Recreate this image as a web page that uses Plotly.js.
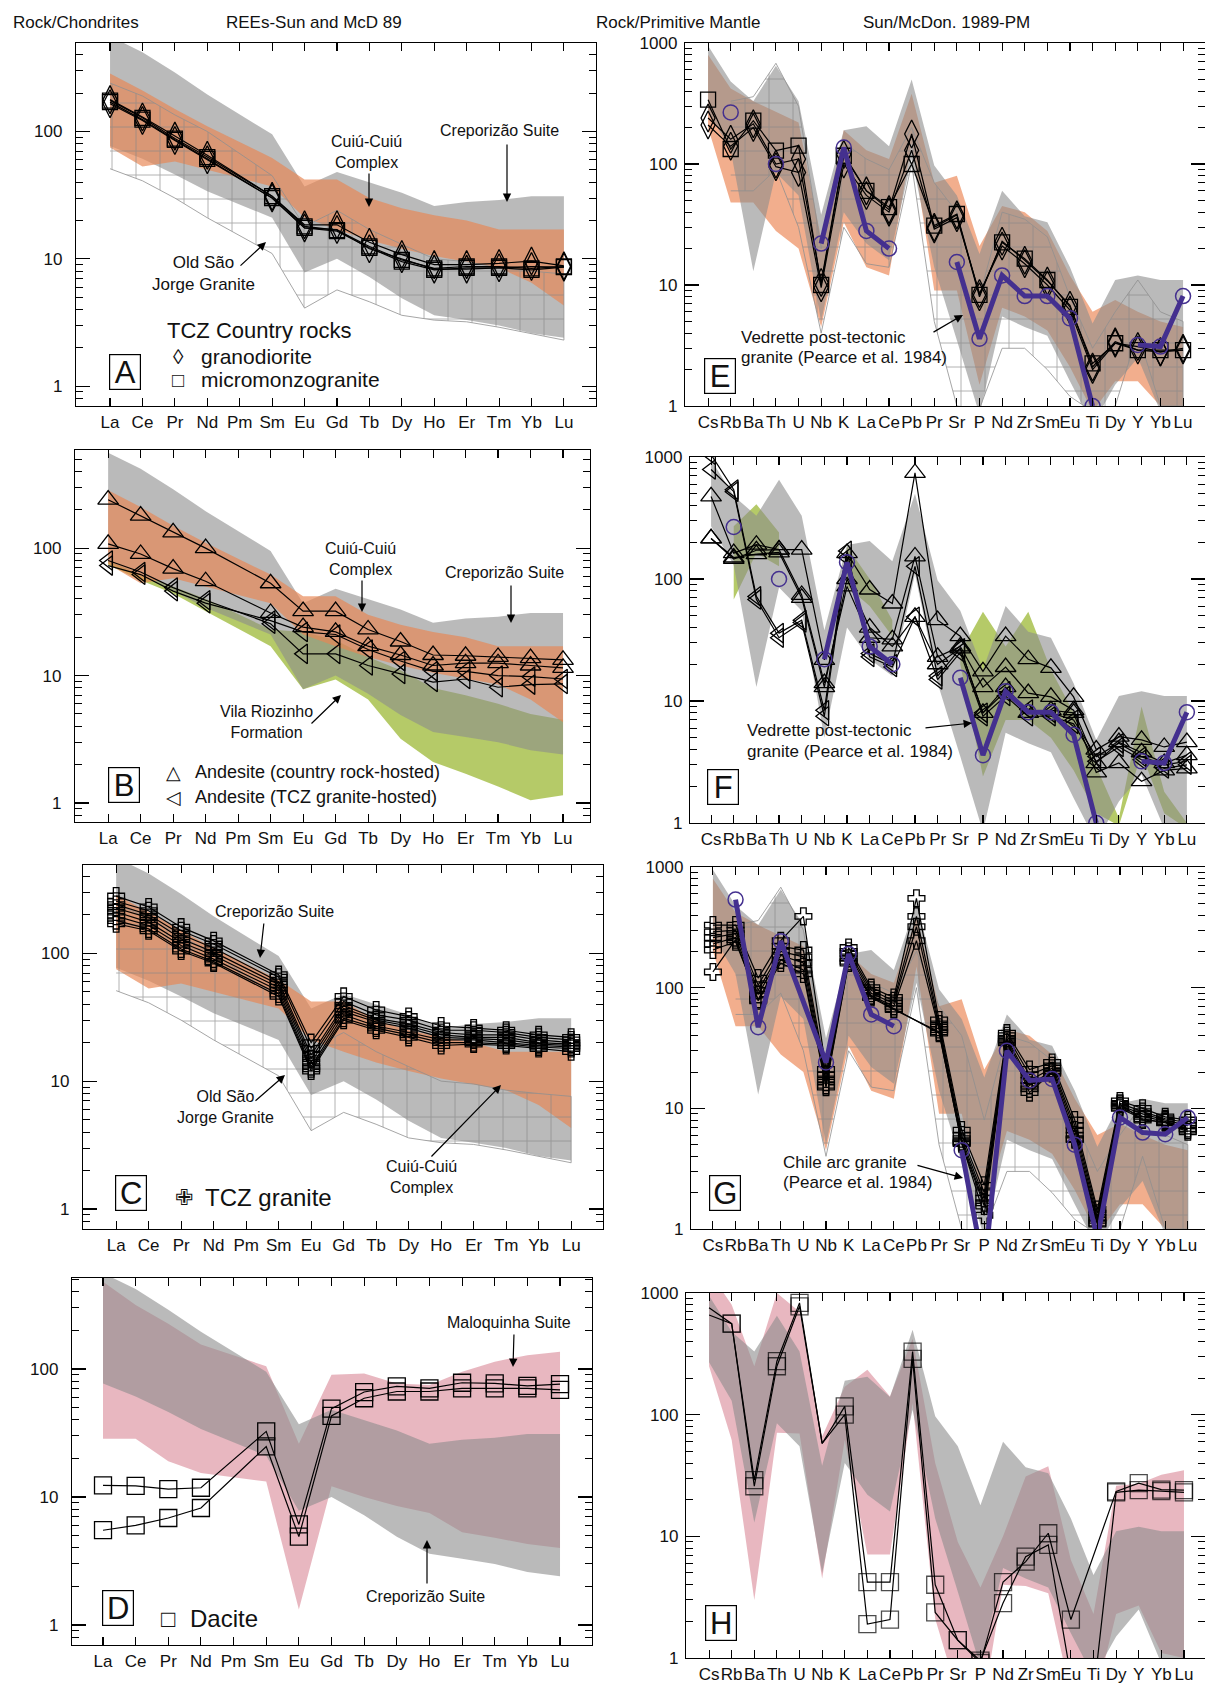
<!DOCTYPE html>
<html><head><meta charset="utf-8">
<script src="https://cdn.plot.ly/plotly-3.0.1.min.js"></script>
<style>html,body{margin:0;padding:0;background:#fff}#chart{width:1205px;height:1684px}</style>
</head><body><div id="chart"></div>
<script>
// ---------------- categories ----------------
const REE = ['La','Ce','Pr','Nd','Pm','Sm','Eu','Gd','Tb','Dy','Ho','Er','Tm','Yb','Lu'];
const SPIDER = ['Cs','Rb','Ba','Th','U','Nb','K','La','Ce','Pb','Pr','Sr','P','Nd','Zr','Sm','Eu','Ti','Dy','Y','Yb','Lu'];

// ---------------- REE reference fields ----------------
const crepREE_hi = [560, 420, 290, 195, null, 95, 37, 48, 40, 33, 26, 28, 29, 31, 31];
const crepREE_lo = [77, 61, 46, 34, null, 21, 7.8, 10, 7.2, 4.9, 3.6, 3.3, 3.0, 2.6, 2.4];
const cuiuREE_hi = [285, 210, 150, 110, null, 62, 42, 42, 30, 25, 22, 20, 17, 17, 17];
const cuiuREE_lo = [75, 53, 58, 50, null, 37, 21, 17, 14, 12, 10.5, 9.5, 8.5, 6.5, 4.3];
const osjREE_hi = [240, 190, 135, 100, null, 45, 18, 24, 17, 13, 10, 9.5, 8.5, 8, 7.6];
const osjREE_lo = [51, 41, 30, 21, null, 11, 4.1, 5.7, 4.6, 3.6, 3.3, 3.2, 2.9, 2.6, 2.3];
const vrREE_hi = [80, 62, 50, 40, null, 23, 22, 19, 14, 11, 8, 7, 6, 5, 4.5];
const vrREE_lo = [74, 56, 44, 32, null, 17, 7.8, 9.3, 6.5, 3.2, 2.1, 1.7, 1.35, 1.05, 1.15];
const malREE_hi = [480, 315, 225, 155, null, 105, 26, 90, 92, 77, 75, 95, 114, 128, 136];
const malREE_lo = [28.5, 28.5, 19, 15.4, null, 13.2, 1.32, 12.1, 10, 8.5, 7.5, 5.3, 4.8, 4.3, 4.0];

// ---------------- spider reference fields ----------------
const crepSP_hi = [950, 480, 330, 650, 330, 38, 190, 205, 140, 500, 97, 55, 18, 60, 37, 33, 14, 4.8, 11, 12, 11, 11];
const crepSP_lo = [270, 130, 13, 85, 55, 5, 40, 22, 16, 110, 14, 3.5, 0.85, 5.5, 4.5, 3.8, 1.6, 0.7, 1.5, 2.5, 0.9, 0.85];
const cuiuSP_hi = [800, 420, 330, 270, 220, 24, 190, 130, 110, 380, 70, 80, 21, 45, 40, 28, 12, 6, 7.5, 6, 5, 4.5];
const cuiuSP_lo = [200, 48, 48, 28, 20, 4.5, 33, 14, 12, 150, 9, 9, 1.5, 6.5, 5.5, 4.2, 2.1, 0.9, 1.6, 1.6, 1.0, 0.9];
const osjSP_hi = [null, 330, 360, 680, 300, 20, 150, 110, 90, 200, 70, 40, 8, 40, 35, 25, 8, 3, 6, 11, 6, 5];
const osjSP_lo = [null, 60, 60, 90, 30, 4, 30, 15, 14, 100, 5, 1.0, 0.95, 3, 3, 2, 1.2, 0.9, 1.0, 4, 1.0, 1.0];
const vrSP_hi = [null, 270, 410, 240, null, null, 185, 100, 46, null, null, 25, 54, 28, 54, 18, 8, 2.9, 1.1, 9, 1.8, 1.0];
const vrSP_lo = [null, 68, 163, 127, null, null, 87, 60, 34, null, null, 20, 2.4, 7, 7, 5, 2.7, 1.2, 0.95, 3.7, 1.2, 0.9];
const malSP_hi = [1500, 800, 250, 1000, 700, 66, 170, 234, 141, 420, 40, 9, 3.8, 10, 31, 37.6, 6.4, 2.3, 26, 27, 32, 35];
const malSP_lo = [250, 62, 3, 71, 70, 4.5, 62, 7.1, 7.1, 125, 2.1, 0.5, 0.3, 4.0, 3.9, 3.4, 0.5, 0.4, 2.3, 2.7, 1.1, 1.0];

// ---------------- samples ----------------
// A: TCZ country rocks
const A_granodiorite1 = [178, 130, 92, 65, null, 31, 18.5, 18.5, 13.5, 10.8, 9.0, 9.0, 9.2, 9.6, 8.8];
const A_granodiorite2 = [165, 122, 85, 60, null, 30, 17.5, 17, 12, 10, 8.3, 8.3, 8.5, 8.7, 8.6];
const A_micromonzo1 = [175, 128, 88, 63, null, 31, 18, 16.8, 12.5, 9.8, 8.4, 8.7, 8.7, 8.4, 8.7];
const A_micromonzo2 = [170, 124, 86, 61, null, 30, 17.5, 16.5, 12.2, 9.5, 8.2, 8.5, 8.5, 8.2, 8.6];
// B: andesites
const B_country1 = [240, 180, 133, 100, null, 53, 32, 32, 23, 18.5, 14.5, 14.3, 14, 13.7, 13.3];
const B_country2 = [108, 90, 69, 55, null, 31, 24, 22, 17, 14.5, 12, 12.5, 12.5, 12, 11.5];
const B_tcz1 = [80, 65, 49, 39, null, 25.5, 14.8, 14.8, 12, 10.3, 8.9, 9.4, 8.1, 8.5, 8.6];
const B_tcz2 = [73, 62, 46, 37, null, 27, 22, 21, 16, 13, 10.8, 10.8, 10, 9.8, 9.4];
// C: TCZ granite
const C_g1 = [280, 230, 160, 125, null, 68, 20, 46, 36, 32, 27, 26, 25, 23, 22];
const C_g2 = [255, 215, 150, 118, null, 65, 18, 42, 33, 30, 25, 25, 24, 22, 21];
const C_g3 = [240, 200, 140, 110, null, 60, 16, 39, 31, 28, 24, 23, 23, 21, 20];
const C_g4 = [225, 190, 130, 102, null, 57, 15, 37, 30, 27, 23, 22, 22, 20, 19.5];
const C_g5 = [210, 175, 122, 96, null, 54, 14, 35, 29, 26, 22, 21.5, 21, 19.5, 19];
const C_g6 = [195, 165, 115, 90, null, 51, 13, 33, 27, 24, 21, 21, 20, 19, 18.5];
const C_g7 = [180, 155, 108, 86, null, 48, 12.5, 31, 26, 23, 20, 20, 19.5, 18.5, 18];
const C_g8 = [170, 150, 104, 84, null, 46, 12, 30, 25, 22, 19, 19.5, 19, 18, 17];
// D: dacite
const D_dacite1 = [12.3, 12.2, 11.5, 11.8, null, 32.5, 6.1, 49, 66, 73, 70.6, 78, 77, 73.7, 76];
const D_dacite2 = [5.5, 6.0, 6.85, 8.2, null, 24.8, 4.9, 43, 59, 66.6, 66.6, 70.6, 70.6, 70.6, 68.6];
// E
const E_granodiorite1 = [240, 160, 215, 100, 110, 10.5, 120, 60, 42, 177, 30, 38, 8.0, 23, 16, 10.8, 6.8, 2.1, 3.4, 2.9, 2.8, 3.0];
const E_granodiorite2 = [210, 140, 200, 95, 85, 9.5, 100, 55, 40, 130, 29, 36, 8.5, 21, 15, 10, 6.2, 2.0, 3.3, 3.1, 2.8, 2.9];
const E_micromonzo1 = [340, 133, 228, 129, 142, 10, 117, 60, 44, 100, 31, 38.6, 8.3, 22.5, 16.5, 11, 6.6, 2.25, 3.3, 2.9, 2.9, 2.9];
// F
const F_country1 = [475, 163, 191, 174, 174, 21.7, 163, 82, 63, 740, 46, 34, 17.5, 34, 22, 18.7, 10.8, 4.0, 5.1, 4.8, 4.2, 4.6];
const F_country2 = [215, 146, 172, 174, 74, 14, 87, 33, 32, 153, 23, 28, 13, 19, 11.6, 10.8, 8.4, 3.1, 4.6, 3.8, 3.1, 3.6];
const F_country3 = [215, 150, 160, 165, 70, 13, 100, 40, 28, 49, 20, 27, 8, 13, 8, 8.4, 8, 2.6, 3.1, 2.2, 2.7, 2.8];
const F_tcz1 = [1045, 540, 72, 36, 46, 8.4, 170, 24.5, 20, 127, 16, 27, 8, 12, 8.5, 8, 7, 3.5, 4.5, 3.5, 3.0, 3.2];
const F_tcz2 = [790, 520, 68, 33, 44, 7.5, 150, 23, 19, 49, 15, 25, 7.5, 11, 7.5, 7.5, 6.5, 3.2, 4.2, 3.3, 2.8, 3.0];
// G
const G_g1 = [330, 330, 120, 245, 390, 21, 215, 100, 83, 550, 54, 6.6, 2.3, 42, 21, 24, 8, 1.45, 11.5, 10, 8.5, 8];
const G_g2 = [290, 300, 105, 220, 205, 19, 200, 95, 78, 390, 50, 6.0, 2.0, 40, 19, 22.5, 7.2, 1.35, 11, 9.4, 8.2, 7.6];
const G_g3 = [260, 280, 95, 200, 180, 17.5, 190, 90, 74, 320, 47, 5.6, 1.8, 38, 17, 21.5, 6.6, 1.25, 10.5, 9, 8, 7.2];
const G_g4 = [230, 260, 88, 185, 160, 16.5, 175, 86, 70, 245, 45, 5.3, 1.65, 37, 15.5, 20.5, 6.0, 1.18, 10.2, 8.6, 7.8, 6.8];
const G_g5 = [205, 240, 80, 170, 140, 15.5, 165, 83, 66, null, 43, 5.1, 1.55, 35, 14.5, 19.5, 5.6, 1.1, 10, 8.2, 7.6, 6.4];
const G_g6 = [135, 250, 78, 160, 130, 15, 160, 85, 67, null, 42, 5.2, 1.3, 36, 13.5, 20, 5.5, 1.12, 10.8, 8, 7.7, 6.6];
// H
const H_dacite1 = [755, 560, 29, 275, 830, 58, 117, 4.2, 4.2, 330, 4.0, 1.4, 0.91, 4.2, 6.2, 10.6, 2.07, null, 23.4, 27.4, 24.2, 24];
const H_dacite2 = [660, 560, 25.8, 250, 777, 58, 100, 1.9, 2.07, 287, 2.37, 1.4, 0.95, 2.83, 6.8, 8.5, 0.7, 0.5, 23, 24, 23.5, 23];
// reference granites (Pearce et al. 1984)
const vedrette = [null, 267, null, 100, null, 22, 137, 28, 20, null, null, 15.5, 3.6, 12, 8.1, 8.1, 5.3, 1.0, null, 3.2, 3.1, 8.1];
const chileA = [null, 537, 47, 243, null, 24, 190, 60, 48, null, null, null, null, null, null, null, null, null, null, null, null, null];
const chileB = [null, null, null, null, null, null, null, null, null, null, null, 4.5, 0.46, 30, 17, 17.5, 5, 0.84, 8.4, 6.3, 6.1, 8.4];

// ---------------- layout geometry ----------------
const W = 1205, H = 1684;
const FONT = '"Liberation Sans", Arial, sans-serif';
const P = {
  A:{n:1, l:76, r:596, t:43, b:406, cats:REE, xr:[-1.05,14.99], yr:[-0.156,2.695], so:9},
  B:{n:2, l:75, r:590, t:450, b:822, cats:REE, xr:[-1.02,14.83], yr:[-0.149,2.77], so:9},
  C:{n:3, l:83, r:603, t:865, b:1229, cats:REE, xr:[-1.02,14.98], yr:[-0.156,2.69], so:9},
  D:{n:4, l:72, r:592, t:1278, b:1645, cats:REE, xr:[-0.95,14.98], yr:[-0.156,2.71], so:9},
  E:{n:5, l:685, r:1205, t:43, b:406, cats:SPIDER, xr:[-1.02,21.97], yr:[0,3], so:3},
  F:{n:6, l:690, r:1205, t:457, b:823, cats:SPIDER, xr:[-0.93,21.8], yr:[0,3], so:3},
  G:{n:7, l:691, r:1205, t:867, b:1229, cats:SPIDER, xr:[-0.97,21.76], yr:[0,3], so:3},
  H:{n:8, l:686, r:1205, t:1293, b:1658, cats:SPIDER, xr:[-1.02,21.93], yr:[0,3], so:3}
};
function ids(p){ return p.n===1 ? {x:'x', y:'y'} : {x:'x'+p.n, y:'y'+p.n}; }

// colours
const GRAY = 'rgba(140,140,140,0.6)';
const ORANGE_TOP = 'rgba(232,134,84,0.68)';
const ORANGE_UNDER = 'rgba(235,130,80,0.65)';
const GREEN = 'rgba(150,180,40,0.7)';
const PINK = 'rgba(205,95,115,0.45)';
const PURPLE = '#44308f';

function bandXY(cats, hi, lo, split){
  const segs = []; let cur = [];
  for (let i = 0; i < cats.length; i++){
    if (hi[i] == null || lo[i] == null){ if (split && cur.length){ segs.push(cur); cur = []; } continue; }
    cur.push(i);
  }
  if (cur.length) segs.push(cur);
  const x = [], y = [];
  segs.forEach((s, k) => {
    if (k > 0){ x.push(null); y.push(null); }
    s.forEach(i => { x.push(cats[i]); y.push(hi[i]); });
    s.slice().reverse().forEach(i => { x.push(cats[i]); y.push(lo[i]); });
  });
  return {x, y};
}
function band(p, hi, lo, color, split, extra){
  const id = ids(p), d = bandXY(p.cats, hi, lo, split);
  return Object.assign({type:'scatter', mode:'lines', x:d.x, y:d.y, xaxis:id.x, yaxis:id.y,
    fill:'toself', fillcolor:color, line:{width:0, color:color}, hoverinfo:'skip'}, extra || {});
}
function osj(p, hi, lo, split){
  return band(p, hi, lo, 'rgba(0,0,0,0)', split, {
    line:{width:0.8, color:'#8f8f8f'},
    fillpattern:{shape:'+', fgcolor:'#858585', bgcolor:'rgba(0,0,0,0)', size:24, solidity:0.07, fgopacity:0.75}
  });
}
function series(p, vals, sym, size, extra){
  const id = ids(p);
  return Object.assign({type:'scatter', mode:'lines+markers', x:p.cats, y:vals, xaxis:id.x, yaxis:id.y,
    connectgaps:true, line:{color:'#000', width:1.2},
    marker:{symbol:sym, size:size, color:'#000', line:{color:'#000', width:1.3}}, hoverinfo:'skip'}, extra || {});
}
function refLine(p, vals, gaps, extra){
  const id = ids(p);
  return Object.assign({type:'scatter', mode:'lines+markers', x:p.cats, y:vals, xaxis:id.x, yaxis:id.y,
    connectgaps:gaps, line:{color:PURPLE, width:5},
    marker:{symbol:'circle-open', size:15, color:PURPLE, line:{color:PURPLE, width:1.5}}, hoverinfo:'skip'}, extra || {});
}

const traces = [];
// A
traces.push(band(P.A, crepREE_hi, crepREE_lo, GRAY, false));
traces.push(band(P.A, cuiuREE_hi, cuiuREE_lo, ORANGE_TOP, false));
traces.push(osj(P.A, osjREE_hi, osjREE_lo, false));
[A_granodiorite1, A_granodiorite2].forEach(v => traces.push(series(P.A, v, 'diamond-tall-open', 20)));
[A_micromonzo1, A_micromonzo2].forEach(v => traces.push(series(P.A, v, 'square-open', 15)));
// B
traces.push(band(P.B, vrREE_hi, vrREE_lo, GREEN, false));
traces.push(band(P.B, crepREE_hi, crepREE_lo, GRAY, false));
traces.push(band(P.B, cuiuREE_hi, cuiuREE_lo, ORANGE_TOP, false));
[B_country1, B_country2].forEach(v => traces.push(series(P.B, v, 'triangle-up-open', 18)));
[B_tcz1, B_tcz2].forEach(v => traces.push(series(P.B, v, 'triangle-left-open', 17)));
// C
traces.push(band(P.C, crepREE_hi, crepREE_lo, GRAY, false));
traces.push(band(P.C, cuiuREE_hi, cuiuREE_lo, ORANGE_TOP, false));
traces.push(osj(P.C, osjREE_hi, osjREE_lo, false));
[C_g1, C_g2, C_g3, C_g4, C_g5, C_g6, C_g7, C_g8].forEach(v => traces.push(series(P.C, v, 'cross-open', 14)));
// D
traces.push(band(P.D, malREE_hi, malREE_lo, PINK, false));
traces.push(band(P.D, crepREE_hi, crepREE_lo, GRAY, false));
[D_dacite1, D_dacite2].forEach(v => traces.push(series(P.D, v, 'square-open', 17)));
// E
traces.push(band(P.E, cuiuSP_hi, cuiuSP_lo, ORANGE_UNDER, true));
traces.push(band(P.E, crepSP_hi, crepSP_lo, GRAY, true));
traces.push(osj(P.E, osjSP_hi, osjSP_lo, true));
[E_granodiorite1, E_granodiorite2].forEach(v => traces.push(series(P.E, v, 'diamond-tall-open', 20)));
traces.push(series(P.E, E_micromonzo1, 'square-open', 15));
traces.push(refLine(P.E, vedrette, false));
// F
traces.push(band(P.F, vrSP_hi, vrSP_lo, GREEN, true));
traces.push(band(P.F, crepSP_hi, crepSP_lo, GRAY, true));
[F_country1, F_country2, F_country3].forEach(v => traces.push(series(P.F, v, 'triangle-up-open', 18)));
[F_tcz1, F_tcz2].forEach(v => traces.push(series(P.F, v, 'triangle-left-open', 17)));
traces.push(refLine(P.F, vedrette, false));
// G
traces.push(band(P.G, cuiuSP_hi, cuiuSP_lo, ORANGE_UNDER, true));
traces.push(band(P.G, crepSP_hi, crepSP_lo, GRAY, true));
traces.push(osj(P.G, osjSP_hi, osjSP_lo, true));
[G_g1, G_g2, G_g3, G_g4, G_g5, G_g6].forEach(v => traces.push(series(P.G, v, 'cross-open', 14)));
traces.push(refLine(P.G, chileA, true, {cliponaxis:false}));
traces.push(refLine(P.G, chileB, true, {cliponaxis:false}));
// H
traces.push(band(P.H, malSP_hi, malSP_lo, PINK, true));
traces.push(band(P.H, crepSP_hi, crepSP_lo, GRAY, true));
[H_dacite1, H_dacite2].forEach(v => {
  const t = series(P.H, v, 'square-open', 17);
  t.marker.size = SPIDER.map(c => (c === 'Cs' || c === 'Nb') ? 0 : 17);
  traces.push(t);
});

// ---------------- axes ----------------
const layout = {
  width:W, height:H, margin:{l:0, r:0, t:0, b:0}, autosize:false,
  paper_bgcolor:'#fff', plot_bgcolor:'rgba(0,0,0,0)', showlegend:false,
  font:{family:FONT, color:'#000'}, annotations:[]
};
Object.values(P).forEach(p => {
  const id = ids(p);
  const xk = p.n===1 ? 'xaxis' : 'xaxis'+p.n, yk = p.n===1 ? 'yaxis' : 'yaxis'+p.n;
  layout[xk] = {domain:[p.l/W, p.r/W], anchor:id.y, type:'category', categoryorder:'array', categoryarray:p.cats,
    range:p.xr, showline:true, linecolor:'#000', linewidth:1.2, mirror:'ticks', ticks:'inside', ticklen:8,
    tickwidth:1.1, tickcolor:'#000', showgrid:false, zeroline:false, tickmode:'array', tickvals:p.cats,
    ticktext:p.cats, tickangle:0, tickfont:{family:FONT, size:17, color:'#111'}, fixedrange:true};
  layout[yk] = {domain:[1-p.b/H, 1-p.t/H], anchor:id.x, type:'log', range:p.yr, showline:true, linecolor:'#000',
    linewidth:1.2, mirror:'ticks', ticks:'inside', ticklen:14, tickwidth:1.2, tickcolor:'#000',
    tickmode:'linear', tick0:0, dtick:1, exponentformat:'none', showgrid:false, zeroline:false,
    minor:{ticks:'inside', ticklen:7, tickwidth:1, tickcolor:'#000', dtick:'D1', showgrid:false},
    ticklabelstandoff:p.so, tickfont:{family:FONT, size:17, color:'#111'}, fixedrange:true};
});

// ---------------- annotations ----------------
function txt(px, py, text, size, opts){
  return Object.assign({xref:'paper', yref:'paper', x:px/W, y:1-py/H, text:text, showarrow:false,
    font:{family:FONT, size:size, color:'#111'}, xanchor:'center', yanchor:'middle', align:'center'}, opts || {});
}
function arrow(tx, ty, hx, hy){
  return {xref:'paper', yref:'paper', x:hx/W, y:1-hy/H, ax:tx-hx, ay:ty-hy, axref:'pixel', ayref:'pixel',
    text:'', showarrow:true, arrowhead:2, arrowsize:1.4, arrowwidth:1.2, arrowcolor:'#000', standoff:0, startstandoff:0};
}
function box(px, py, letter){
  return txt(px, py, letter, 30, {bordercolor:'#000', borderwidth:1.2, borderpad:1, width:28, height:32,
    font:{family:FONT, size:31, color:'#111'}});
}
const L = {xanchor:'left', align:'left'};
layout.annotations.push(
  txt(11, 23, 'Rock/Chondrites', 17, L),
  txt(314, 23, 'REEs-Sun and McD 89', 17),
  txt(594, 23, 'Rock/Primitive Mantle', 17, L),
  txt(946, 23, 'Sun/McDon. 1989-PM', 17),
  // A
  txt(367, 152, 'Cuiú-Cuiú<br>Complex', 16), arrow(369, 172, 369, 207),
  txt(499, 131, 'Creporizão Suite', 16), arrow(507, 143, 507, 202),
  txt(203, 273, 'Old São<br>Jorge Granite', 17), arrow(239, 267, 266, 242),
  txt(165, 331, 'TCZ Country rocks', 22, L),
  txt(178, 356, '◊', 21), txt(199, 356, 'granodiorite', 21, L),
  txt(178, 380, '□', 20), txt(199, 380, 'micromonzogranite', 21, L),
  box(125, 372, 'A'),
  // B
  txt(360, 559, 'Cuiú-Cuiú<br>Complex', 16), arrow(362, 579, 362, 612),
  txt(504, 572, 'Creporizão Suite', 16), arrow(511, 584, 511, 623),
  txt(266, 722, 'Vila Riozinho<br>Formation', 16), arrow(310, 725, 341, 695),
  txt(174, 772, '△', 19), txt(193, 772, 'Andesite (country rock-hosted)', 18, L),
  txt(174, 797, '◁', 19), txt(193, 797, 'Andesite (TCZ granite-hosted)', 18, L),
  box(124, 785, 'B'),
  // C
  txt(274, 911, 'Creporizão Suite', 16), arrow(264, 922, 260, 958),
  txt(225, 1107, 'Old São<br>Jorge Granite', 16), arrow(254, 1102, 285, 1075),
  txt(421, 1177, 'Cuiú-Cuiú<br>Complex', 16), arrow(430, 1158, 501, 1085),
  box(131, 1193, 'C'),
  txt(184, 1197, '✙', 22), txt(203, 1197, 'TCZ granite', 24, L),
  // D
  txt(509, 1322, 'Maloquinha Suite', 16), arrow(514, 1333, 513, 1367),
  txt(425, 1596, 'Creporizão Suite', 16), arrow(427, 1585, 427, 1540),
  box(118, 1608, 'D'),
  txt(168, 1618, '□', 24), txt(188, 1618, 'Dacite', 24, L),
  // E
  txt(739, 337, 'Vedrette post-tectonic', 17, L), txt(739, 357, 'granite (Pearce et al. 1984)', 17, L),
  arrow(932, 333, 963, 315), box(720, 376, 'E'),
  // F
  txt(745, 730, 'Vedrette post-tectonic', 17, L), txt(745, 752, 'granite (Pearce et al. 1984)', 17, L),
  arrow(924, 728, 972, 723), box(723, 787, 'F'),
  // G
  txt(781, 1162, 'Chile arc granite', 17, L), txt(781, 1182, '(Pearce et al. 1984)', 17, L),
  arrow(916, 1165, 963, 1178), box(725, 1193, 'G'),
  // H
  box(721, 1623, 'H')
);

Plotly.newPlot('chart', traces, layout, {staticPlot:true, displayModeBar:false});
</script>
</body></html>
